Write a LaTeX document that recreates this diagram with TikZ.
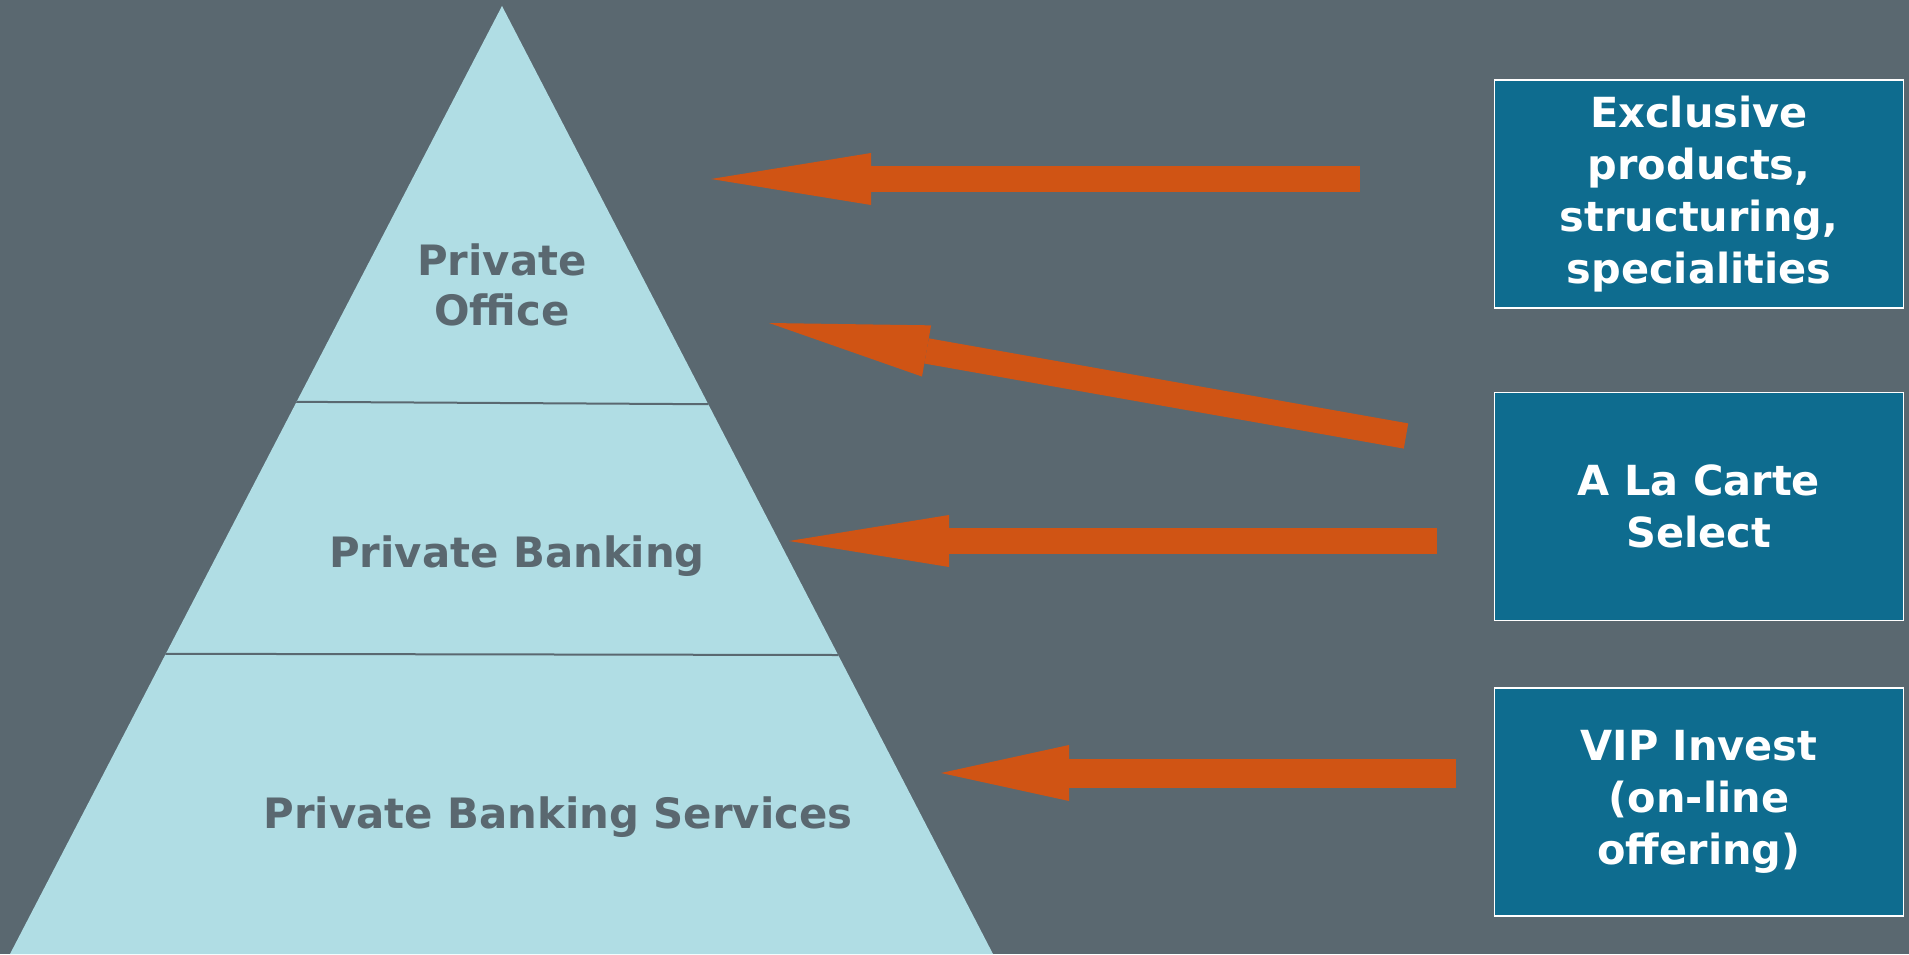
\documentclass[tikz,border=0pt]{standalone}
\usepackage{fontspec}
\setmainfont{DejaVu Sans}
\usetikzlibrary{positioning,arrows.meta}

\definecolor{slate}{RGB}{90,104,112}
\definecolor{paleblue}{RGB}{176,221,228}
\definecolor{rust}{RGB}{208,84,20}
\definecolor{offerblue}{RGB}{14,108,143}

\begin{document}
\begin{tikzpicture}[x=0.1mm, y=0.1mm,
    tier/.style={text=slate, font=\bfseries\fontsize{11.9}{14.4}\selectfont, align=center},
    offer/.style={draw=white, line width=0.15mm, fill=offerblue, text=white,
      font=\bfseries\fontsize{11.8}{14.8}\selectfont, align=center,
      minimum width=40.9mm, minimum height=22.8mm},
    feed/.style={rust, line width=#1, -{Triangle[length=16mm, width=5.2mm, line width=0pt]}}]

  % background
  \fill[slate] (0,0) rectangle (1909,954);

  % pyramid with its two dividers
  \fill[paleblue] (10,0) -- (502,948) -- (993,0) -- cycle;
  \begin{scope}
    \clip (10,0) -- (502,948) -- (993,0) -- cycle;
    \draw[slate, line width=0.2mm] (0,553.9) -- (1000,548.1);
    \draw[slate, line width=0.2mm] (0,300.5) -- (1000,298.7);
  \end{scope}

  \node[tier] (office) at (502,669) {Private\\Office};
  \node[tier] (banking) at (517,398) {Private Banking};
  \node[tier] (services) at (558,137) {Private Banking Services};

  % offerings on the right
  \node[offer] (exclusive) at (1699,760) {Exclusive\\products,\\structuring,\\specialities};
  \node[offer, below=8.3mm of exclusive] (carte) {A La Carte\\Select};
  \node[offer, below=6.6mm of carte] (vip) {VIP Invest\\(on-line\\offering)};

  % arrows pointing into the tiers
  \coordinate (tail1) at (1360,775);  \coordinate (tip1) at (711,775);
  \coordinate (tail2) at (1406,518);  \coordinate (tip2) at (769,631);
  \coordinate (tail3) at (1437,413);  \coordinate (tip3) at (789,413);
  \coordinate (tail4) at (1456,181);  \coordinate (tip4) at (941,181);

  \draw[feed=2.56mm] (tail1) -- (tip1);
  \draw[feed=2.56mm] (tail2) -- (tip2);
  \draw[feed=2.68mm] (tail3) -- (tip3);
  \draw[feed=2.9mm, -{Triangle[length=12.8mm, width=5.6mm, line width=0pt]}] (tail4) -- (tip4);
\end{tikzpicture}
\end{document}
